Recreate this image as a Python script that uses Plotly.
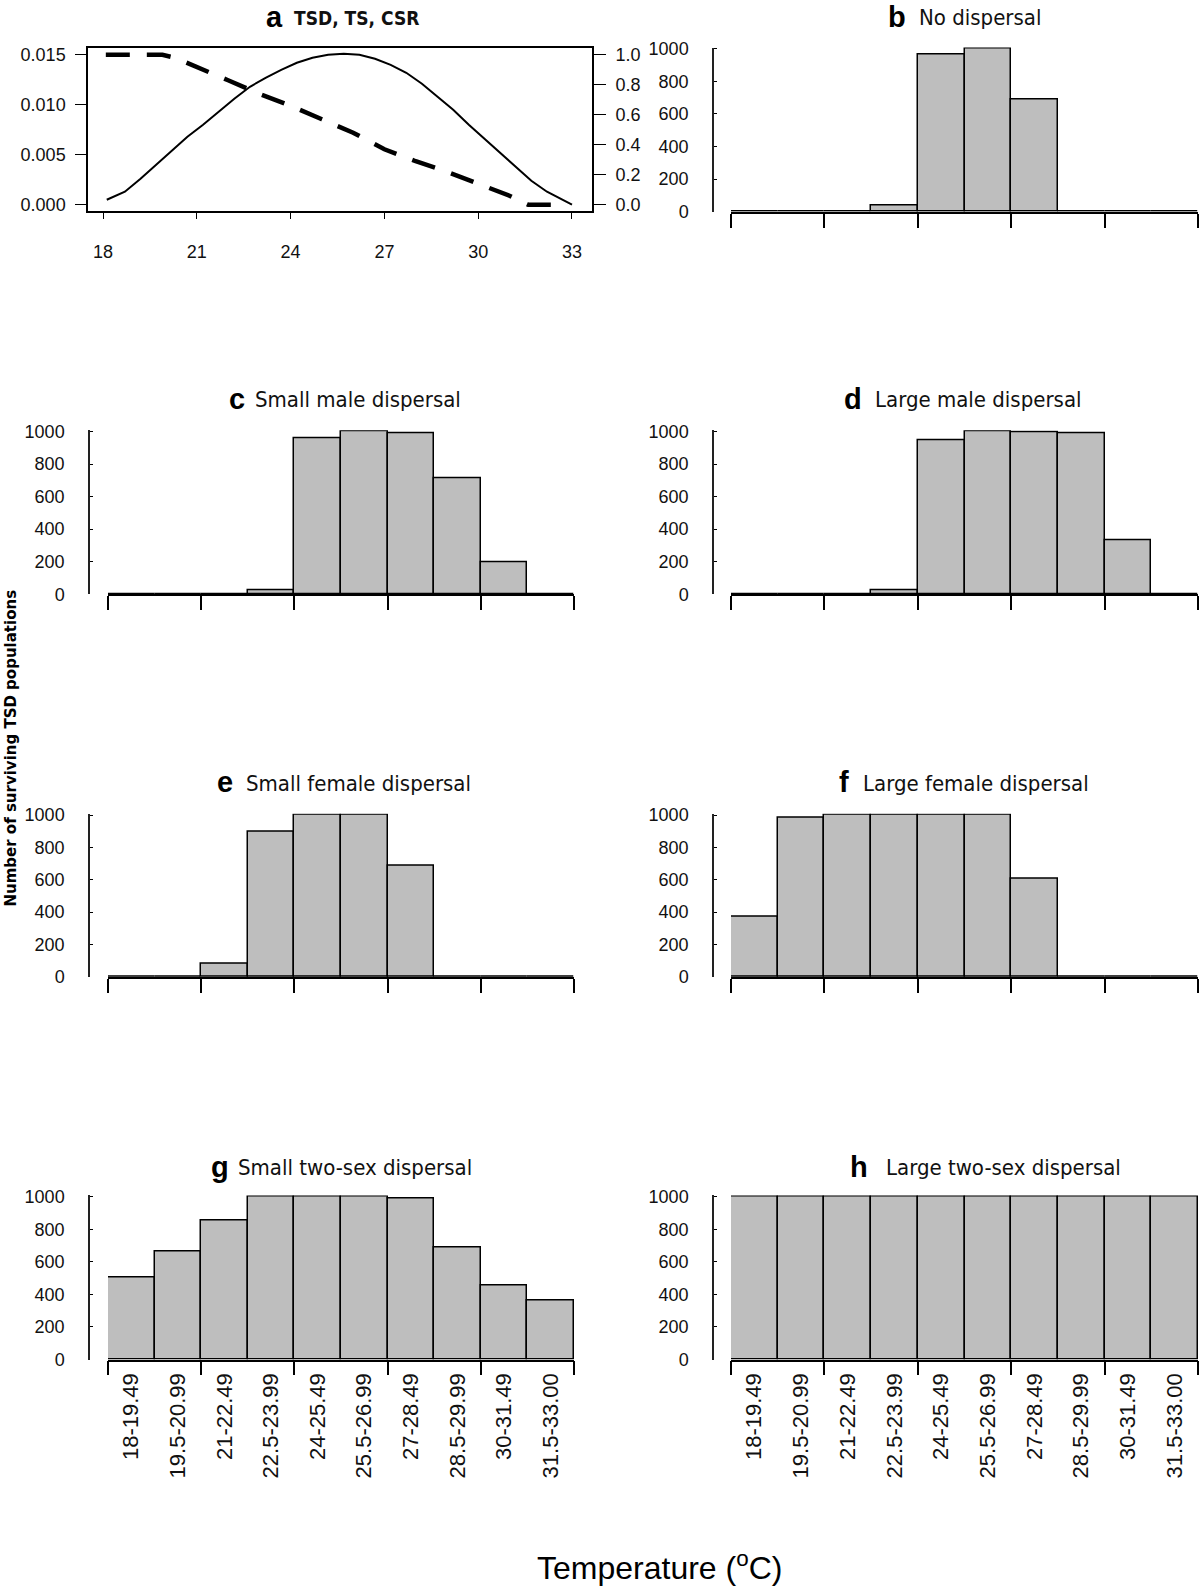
import plotly.graph_objects as go

# ---------------- data ----------------
bins = ["18-19.49", "19.5-20.99", "21-22.49", "22.5-23.99", "24-25.49",
        "25.5-26.99", "27-28.49", "28.5-29.99", "30-31.49", "31.5-33.00"]

no_dispersal = [0, 0, 0, 40, 963, 1000, 687, 0, 0, 0]
small_male = [0, 0, 0, 24, 959, 1000, 988, 712, 198, 0]
large_male = [0, 0, 0, 24, 949, 1000, 998, 988, 335, 0]
small_female = [0, 0, 80, 897, 1000, 1000, 684, 0, 0, 0]
large_female = [370, 984, 1000, 1000, 1000, 1000, 608, 0, 0, 0]
small_two_sex = [502, 667, 853, 1000, 1000, 1000, 988, 690, 453, 363]
large_two_sex = [1000, 1000, 1000, 1000, 1000, 1000, 1000, 1000, 1000, 1000]

# panel a: TSD curve (left axis) and sex-ratio curve (right axis)
ts_temp = [18.12, 18.7, 19.2, 19.7, 20.2, 20.7, 21.2, 21.7, 22.2, 22.7, 23.2,
           23.7, 24.2, 24.7, 25.2, 25.7, 26.2, 26.7, 27.2, 27.7, 28.2, 28.7,
           29.2, 29.7, 30.2, 30.7, 31.2, 31.7, 32.2, 32.7, 33.0]
ts_value = [0.0005, 0.0013, 0.0026, 0.0040, 0.0054, 0.0068, 0.0080, 0.0093,
            0.0106, 0.0118, 0.0127, 0.0135, 0.0142, 0.0147, 0.0150, 0.0151,
            0.0150, 0.0146, 0.0140, 0.0132, 0.0121, 0.0108, 0.0095, 0.0080,
            0.0066, 0.0051, 0.0037, 0.0024, 0.0013, 0.0005, 0.0000]
csr_temp = [18.09, 19.9, 20.3, 21.0, 22.0, 23.0, 24.0, 25.0, 26.0, 27.0,
            28.0, 29.0, 30.0, 31.0, 31.6, 32.6]
csr_value = [1.0, 1.0, 0.98, 0.92, 0.83, 0.74, 0.66, 0.57, 0.48, 0.37,
             0.29, 0.22, 0.14, 0.06, 0.0, 0.0]

panel_letters = ["b", "c", "d", "e", "f", "g", "h"]
panel_names = ["No dispersal", "Small male dispersal", "Large male dispersal",
               "Small female dispersal", "Large female dispersal",
               "Small two-sex dispersal", "Large two-sex dispersal"]
panel_values = [no_dispersal, small_male, large_male, small_female,
                large_female, small_two_sex, large_two_sex]

y_ticks = [0, 200, 400, 600, 800, 1000]
a_x_ticks = [18, 21, 24, 27, 30, 33]
a_left_ticks = [0.0, 0.005, 0.010, 0.015]
a_right_ticks = [0.0, 0.2, 0.4, 0.6, 0.8, 1.0]

# ---------------- layout helpers ----------------
W, H = 1200, 1590
def px(x):
    return x / W
def py(y):
    return 1 - y / H

TICKFONT = dict(family="Liberation Sans, Arial, sans-serif", size=18, color="#111")
TITLEFONT = "Liberation Sans Narrow, Arial Narrow, DejaVu Sans Condensed, Liberation Sans, sans-serif"

fig = go.Figure()
layout = dict(
    width=W, height=H,
    margin=dict(l=0, r=0, t=0, b=0),
    paper_bgcolor="white", plot_bgcolor="white",
    showlegend=False, bargap=0,
    font=dict(family="Liberation Sans, Arial, sans-serif", color="black"),
)

# ---- panel a ----
fig.add_trace(go.Scatter(x=ts_temp, y=ts_value, mode="lines",
                         line=dict(color="black", width=2),
                         xaxis="x", yaxis="y"))
fig.add_trace(go.Scatter(x=csr_temp, y=csr_value, mode="lines",
                         line=dict(color="black", width=4.5, dash="24px,17px"),
                         xaxis="x", yaxis="y2"))

a_top, a_bot = 40, 205
layout["xaxis"] = dict(domain=[px(88), px(592)], range=[17.52, 33.64],
                       anchor="y", tickvals=a_x_ticks, ticks="outside",
                       ticklen=7, tickwidth=1.3, tickcolor="black",
                       showline=True, linecolor="black", linewidth=1.5,
                       mirror=True, showgrid=False, zeroline=False,
                       tickfont=TICKFONT, ticklabelstandoff=17)
layout["yaxis"] = dict(domain=[py(a_bot), py(a_top)],
                       range=[-0.000597, 0.015726], anchor="x",
                       tickvals=a_left_ticks, tickformat=".3f",
                       ticks="outside", ticklen=11, tickwidth=1.3,
                       tickcolor="black", showline=True, linecolor="black",
                       linewidth=1.5, mirror=True, showgrid=False,
                       zeroline=False, tickfont=TICKFONT, ticklabelstandoff=6)
layout["yaxis2"] = dict(overlaying="y", side="right", anchor="x",
                        range=[-0.0398, 1.0484], tickvals=a_right_ticks,
                        tickformat=".1f", ticks="outside", ticklen=13,
                        tickwidth=1.3, tickcolor="black", showline=False,
                        showgrid=False, zeroline=False, tickfont=TICKFONT,
                        ticklabelstandoff=6)

# ---- bar panels ----
cols = {"L": (108, 574, 89), "R": (731, 1198, 713)}
rows = [(40, 206), (427, 593), (815, 980), (1201, 1367)]
title_rows = [9, 395, 783, 1172]
placement = [("R", 0), ("L", 1), ("R", 1), ("L", 2), ("R", 2), ("L", 3), ("R", 3)]
title_x = [(908, 917), (247, 253), (864, 873), (235, 244), (851, 861),
           (231, 236), (870, 884)]

positions = [i + 0.5 for i in range(len(bins))]
boundaries = list(range(0, len(bins) + 1, 2))

annotations = []
for k, (vals, (col, row)) in enumerate(zip(panel_values, placement)):
    xn = k + 2
    yn = k + 3
    xname, yname = f"x{xn}", f"y{yn}"
    x0, x1, yaxis_px = cols[col]
    top, bot = rows[row]
    fig.add_trace(go.Bar(x=positions, y=vals, width=1,
                         marker=dict(color="#bebebe",
                                     line=dict(color="black", width=1.5)),
                         xaxis=xname, yaxis=yname))
    bottom_row = row == 3
    layout[f"xaxis{xn}"] = dict(
        domain=[px(x0), px(x1)], range=[0, len(bins)], anchor=yname,
        tickvals=positions, ticktext=bins, showticklabels=bottom_row,
        ticks="", tickangle=-90,
        tickfont=dict(family="Liberation Sans, Arial, sans-serif", size=22, color="#111"),
        ticklabelstandoff=3,
        minor=dict(tickmode="array", tickvals=boundaries, ticks="outside",
                   ticklen=14, tickwidth=1.5, tickcolor="black", showgrid=False),
        showline=True, linecolor="black", linewidth=1.8,
        showgrid=False, zeroline=False)
    layout[f"yaxis{yn}"] = dict(
        domain=[py(bot), py(top)], range=[0, 1008], anchor="free",
        position=px(yaxis_px), tickvals=y_ticks, ticks="inside", ticklen=3,
        tickwidth=1.3, tickcolor="black", showline=True, linecolor="#222",
        linewidth=1.5, showgrid=False, zeroline=False, tickfont=TICKFONT,
        ticklabelstandoff=20)
    lx, tx = title_x[k]
    ty = title_rows[row]
    annotations.append(dict(text=f"<b>{panel_letters[k]}</b>", x=px(lx), y=py(ty),
                            xref="paper", yref="paper", xanchor="right",
                            yanchor="middle", showarrow=False,
                            font=dict(family="Liberation Sans, Arial, sans-serif",
                                      size=29, color="black")))
    annotations.append(dict(text=panel_names[k], x=px(tx), y=py(ty + 1),
                            xref="paper", yref="paper", xanchor="left",
                            yanchor="middle", showarrow=False,
                            font=dict(family=TITLEFONT, size=22, color="#111")))

# panel a title
annotations.append(dict(text="<b>a</b>", x=px(285), y=py(title_rows[0]),
                        xref="paper", yref="paper", xanchor="right",
                        yanchor="middle", showarrow=False,
                        font=dict(family="Liberation Sans, Arial, sans-serif",
                                  size=29, color="black")))
annotations.append(dict(text="<b>TSD, TS, CSR</b>", x=px(292), y=py(title_rows[0] + 1),
                        xref="paper", yref="paper", xanchor="left",
                        yanchor="middle", showarrow=False,
                        font=dict(family=TITLEFONT, size=19, color="#111")))

# shared axis titles
annotations.append(dict(text="Temperature (<sup>o</sup>C)", x=px(659), y=py(1576),
                        xref="paper", yref="paper", xanchor="center",
                        yanchor="middle", showarrow=False,
                        font=dict(family="Liberation Sans, Arial, sans-serif",
                                  size=32, color="black")))
annotations.append(dict(text="<b>Number of surviving TSD populations</b>",
                        x=px(11), y=py(749), xref="paper", yref="paper",
                        xanchor="center", yanchor="middle", textangle=-90,
                        showarrow=False,
                        font=dict(family="DejaVu Sans, sans-serif", size=15,
                                  color="black")))

layout["annotations"] = annotations
fig.update_layout(**layout)
fig.write_html(
    "out.html",
    config={"displayModeBar": False},
    post_script=(
        "var gd=document.getElementById('{plot_id}');"
        "document.documentElement.style.margin='0px';"
        "document.documentElement.style.overflow='hidden';"
        "document.body.style.margin='0px';"
        "document.body.style.overflow='hidden';"
        "gd.style.position='absolute';gd.style.top='0px';gd.style.left='0px';"
    ),
)
